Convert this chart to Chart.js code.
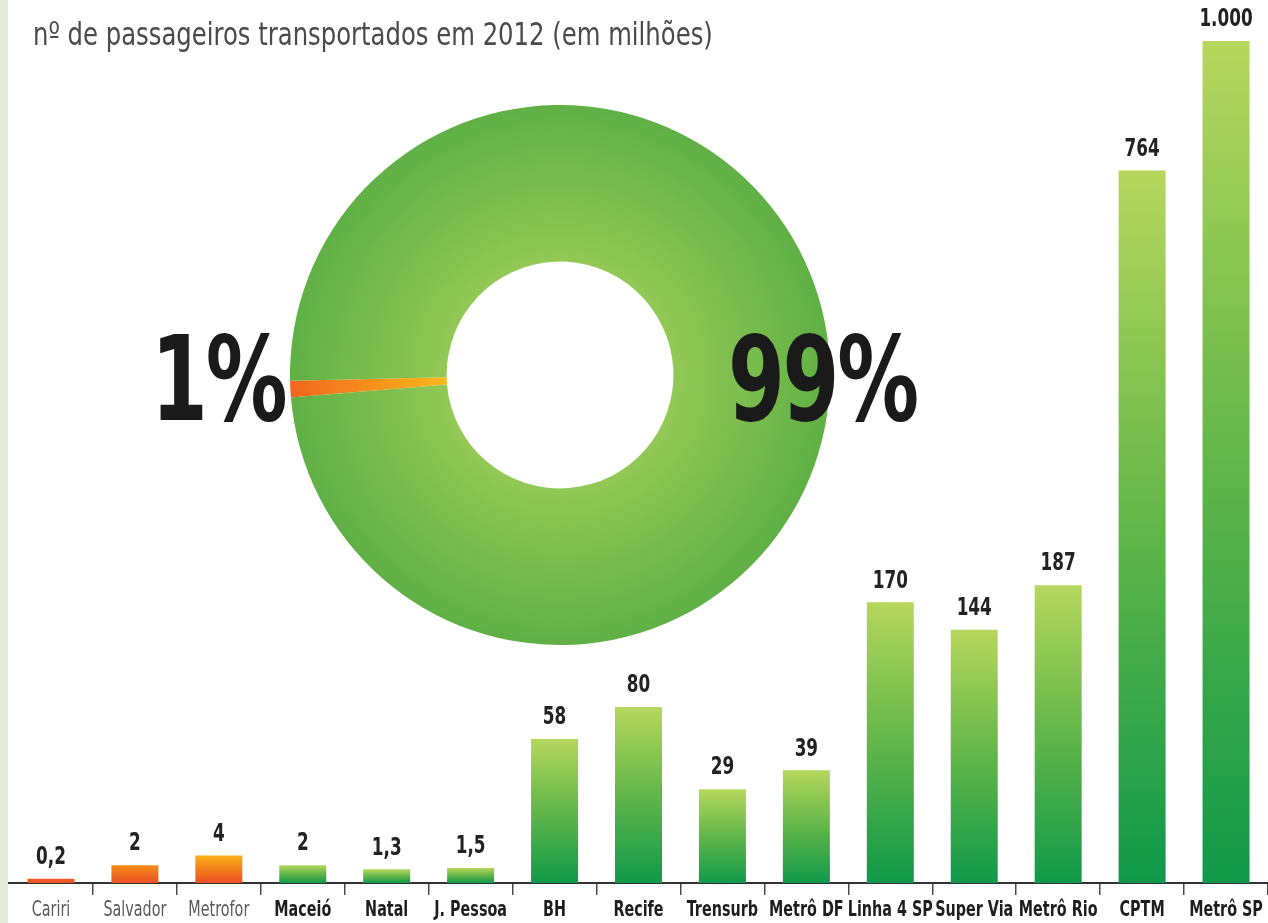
<!DOCTYPE html>
<html>
<head>
<meta charset="utf-8">
<script src="https://cdn.jsdelivr.net/npm/chart.js@4.4.1/dist/chart.umd.min.js"></script>
<style>
  html, body { margin:0; padding:0; background:#ffffff; }
  #wrap { position:relative; width:1268px; height:923px; overflow:hidden; background:#ffffff; }
  #stripe { position:absolute; left:0; top:0; width:8px; height:923px; background:#e3ebdc; }
  #bars { position:absolute; left:0; top:0; }
  #donut { position:absolute; left:290px; top:105px; }
  .txt { position:absolute; font-family:'DejaVu Sans Condensed','DejaVu Sans',sans-serif; white-space:nowrap; }
  #title { left:33px; top:14px; font-size:32px; line-height:40px; color:#4a4a4a; transform:scaleX(0.845); transform-origin:left center; font-weight:300; }
  .pct { font-size:118px; line-height:118px; font-weight:bold; color:#1a1a1a; letter-spacing:-3px; }
  #p1 { right:983px; top:320px; transform:scaleX(0.77); transform-origin:right center; }
  #p99 { left:728px; top:320px; transform:scaleX(0.77); transform-origin:left center; }
</style>
</head>
<body>
<div id="wrap">
  <div id="stripe"></div>
  <canvas id="bars" width="1268" height="923"></canvas>
  <canvas id="donut" width="540" height="540"></canvas>
  <div id="title" class="txt">nº de passageiros transportados em 2012 (em milhões)</div>
  <div id="p1" class="txt pct">1%</div>
  <div id="p99" class="txt pct">99%</div>
</div>
<script>
// ---- data ----
const sistemas = ['Cariri','Salvador','Metrofor','Maceió','Natal','J. Pessoa','BH','Recife','Trensurb','Metrô DF','Linha 4 SP','Super Via','Metrô Rio','CPTM','Metrô SP'];
const passageiros = [0.2, 2, 4, 2, 1.3, 1.5, 58, 80, 29, 39, 170, 144, 187, 764, 1000];
const grupo = ['laranja','laranja','laranja','verde','verde','verde','verde','verde','verde','verde','verde','verde','verde','verde','verde'];
const participacaoLabels = ['laranja','verde'];
const participacao = [1, 99];

const FONT = "'DejaVu Sans Condensed','DejaVu Sans',sans-serif";
const EXPOENTE = 0.62;

// power scale (the infographic's bars are not drawn linearly)
class PowerScale extends Chart.LinearScale {
  getPixelForValue(value) {
    const t = Math.pow(Math.max(value, 0), EXPOENTE) / Math.pow(this.max, EXPOENTE);
    return this.getPixelForDecimal(t);
  }
  getValueForPixel(pixel) {
    const t = this.getDecimalForPixel(pixel);
    return Math.pow(t * Math.pow(this.max, EXPOENTE), 1 / EXPOENTE);
  }
}
PowerScale.id = 'power';
PowerScale.defaults = Chart.LinearScale.defaults;
Chart.register(PowerScale);

const fmt = new Intl.NumberFormat('pt-BR', { maximumFractionDigits: 1 });

function barColor(ctx) {
  const chart = ctx.chart;
  const area = chart.chartArea;
  const g = grupo[ctx.dataIndex];
  if (!area || ctx.type !== 'data') return g === 'laranja' ? '#f28a1f' : '#5cb346';
  const y = chart.scales.y;
  const bottom = y.getPixelForValue(0);
  if (g === 'laranja') {
    const top = y.getPixelForValue(4);
    const grad = chart.ctx.createLinearGradient(0, top, 0, bottom);
    grad.addColorStop(0, '#fbb016');
    grad.addColorStop(1, '#eb4f24');
    return grad;
  }
  const top = y.getPixelForValue(ctx.raw);
  if (bottom - top < 1) return '#5cb346';
  const grad = chart.ctx.createLinearGradient(0, top, 0, bottom);
  grad.addColorStop(0, '#b6d75d');
  grad.addColorStop(0.5, '#62b649');
  grad.addColorStop(1, '#10994a');
  return grad;
}

function condensedText(c, text, x, y, sx) {
  c.save();
  c.translate(x, y);
  c.scale(sx, 1);
  c.fillText(text, 0, 0);
  c.restore();
}

const valueLabels = {
  id: 'valueLabels',
  afterDatasetsDraw(chart) {
    const c = chart.ctx;
    const meta = chart.getDatasetMeta(0);
    c.save();
    c.font = 'bold 24px ' + FONT;
    c.fillStyle = '#222222';
    c.textAlign = 'center';
    c.textBaseline = 'bottom';
    meta.data.forEach((bar, i) => {
      condensedText(c, fmt.format(passageiros[i]), bar.x, bar.y - 9, 0.78);
    });
    c.restore();
  }
};

const categoryLabels = {
  id: 'categoryLabels',
  afterDraw(chart) {
    const c = chart.ctx;
    const xs = chart.scales.x;
    c.save();
    c.textAlign = 'center';
    c.textBaseline = 'middle';
    sistemas.forEach((lab, i) => {
      const x = xs.getPixelForTick(i);
      if (i < 3) {
        c.font = 'normal 21px ' + FONT;
        c.fillStyle = '#5a5a5a';
      } else {
        c.font = 'bold 21px ' + FONT;
        c.fillStyle = '#1e1e1e';
      }
      condensedText(c, lab, x, xs.top + 28, 0.76);
    });
    c.restore();
  }
};

new Chart(document.getElementById('bars'), {
  type: 'bar',
  data: {
    labels: sistemas,
    datasets: [{
      data: passageiros,
      backgroundColor: barColor,
      borderWidth: 0,
      barPercentage: 0.56,
      categoryPercentage: 1
    }]
  },
  options: {
    responsive: false,
    animation: false,
    events: [],
    layout: { padding: { top: 41, left: 9, right: 0, bottom: 0 } },
    plugins: { legend: { display: false }, tooltip: { enabled: false } },
    scales: {
      x: {
        grid: {
          display: true, offset: true, drawOnChartArea: false, drawTicks: true, tickLength: 12,
          color: (ctx) => (ctx.index === 0 || ctx.index >= sistemas.length) ? 'rgba(0,0,0,0)' : '#4a4a4a',
          lineWidth: 1.5
        },
        border: { display: true, color: '#333333', width: 2 },
        ticks: { display: false, autoSkip: false, maxRotation: 0, minRotation: 0 },
        afterFit: (scale) => { scale.height = 40; }
      },
      y: {
        type: 'power',
        min: 0, max: 1000,
        display: false
      }
    }
  },
  plugins: [valueLabels, categoryLabels]
});

function donutColor(ctx) {
  const chart = ctx.chart;
  const area = chart.chartArea;
  const g = participacaoLabels[ctx.dataIndex];
  if (!area) return g === 'laranja' ? '#f58a1f' : '#6ab547';
  const cx = (area.left + area.right) / 2;
  const cy = (area.top + area.bottom) / 2;
  const r = Math.min(area.right - area.left, area.bottom - area.top) / 2;
  const grad = chart.ctx.createRadialGradient(cx, cy, r * 0.42, cx, cy, r);
  if (g === 'laranja') {
    grad.addColorStop(0, '#fcb817');
    grad.addColorStop(1, '#f1661f');
  } else {
    grad.addColorStop(0, '#93c855');
    grad.addColorStop(1, '#5fb045');
  }
  return grad;
}

new Chart(document.getElementById('donut'), {
  type: 'doughnut',
  data: {
    labels: participacaoLabels,
    datasets: [{
      data: participacao,
      backgroundColor: donutColor,
      borderWidth: 0
    }]
  },
  options: {
    responsive: false,
    animation: false,
    events: [],
    cutout: '42%',
    rotation: 265.2,
    layout: { padding: 0 },
    plugins: { legend: { display: false }, tooltip: { enabled: false } }
  }
});
</script>
</body>
</html>
